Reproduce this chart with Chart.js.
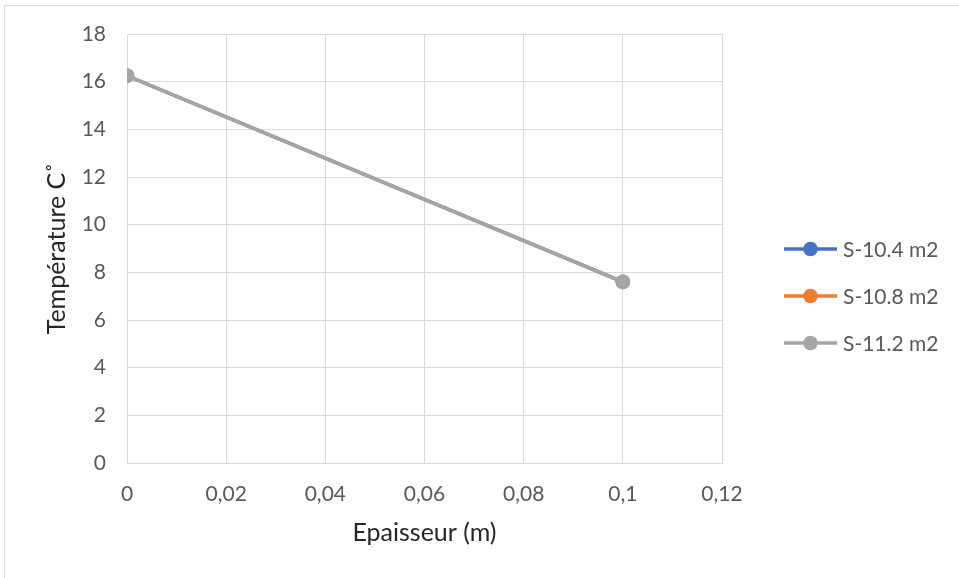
<!DOCTYPE html>
<html>
<head>
<meta charset="utf-8">
<script src="https://cdn.jsdelivr.net/npm/chart.js@4"></script>
<style>
  html, body { margin: 0; padding: 0; background: #fff; overflow: hidden; }
  #wrap { position: relative; width: 959px; height: 578px; }
  #frame { position: absolute; left: 4px; top: 5px; width: 1000px; height: 600px;
           border-top: 1px solid #d9d9d9; border-left: 1px solid #d9d9d9; }
  canvas { position: absolute; left: 0; top: 0; }
</style>
</head>
<body>
<div id="wrap">
  <div id="frame"></div>
  <canvas id="chart" width="959" height="578"></canvas>
</div>
<script>
// epaisseur (m)
const thickness = [0, 0.1];
// temperature per surface
const s104 = [16.25, 7.6];
const s108 = [16.25, 7.6];
const s112 = [16.25, 7.6];
const seriesNames = ['S-10.4 m2', 'S-10.8 m2', 'S-11.2 m2'];
const seriesColors = ['#4472C4', '#ED7D31', '#A5A5A5'];
const xTicksMax = 0.12, xStep = 0.02;
const yTicksMax = 18, yStep = 2;

const FONT = 'Lato, "Liberation Sans", sans-serif';
const toPoints = vals => vals.map((v, i) => ({ x: thickness[i], y: v }));
const allSeries = [s104, s108, s112];

const datasets = allSeries.map((vals, i) => ({
  label: seriesNames[i],
  data: toPoints(vals),
  borderColor: seriesColors[i],
  backgroundColor: seriesColors[i],
  borderWidth: 3.3,
  pointRadius: 7.3,
  pointHoverRadius: 7.3,
  pointBorderWidth: 0,
  order: allSeries.length - i,
  tension: 0
}));

// legend drawn like excel: line with a dot in the middle
const lineLegend = {
  id: 'lineLegend',
  afterDraw(chart) {
    const ctx = chart.ctx;
    ctx.save();
    chart.data.datasets.forEach((ds, i) => {
      const y = 249 + i * 47;
      ctx.strokeStyle = ds.borderColor;
      ctx.lineWidth = 3.3;
      ctx.beginPath();
      ctx.moveTo(784, y);
      ctx.lineTo(837, y);
      ctx.stroke();
      ctx.fillStyle = ds.borderColor;
      ctx.beginPath();
      ctx.arc(810.5, y, 7.3, 0, Math.PI * 2);
      ctx.fill();
      ctx.fillStyle = '#595959';
      ctx.font = '21px ' + FONT;
      ctx.textBaseline = 'middle';
      ctx.fillText(ds.label, 843, y + 1);
    });
    ctx.restore();
  }
};

const fmt = v => Number(v.toFixed(2)).toString().replace('.', ',');

new Chart(document.getElementById('chart'), {
  type: 'line',
  data: { datasets },
  plugins: [lineLegend],
  options: {
    responsive: false,
    animation: false,
    events: [],
    layout: { padding: { left: 0, right: 237, top: 34, bottom: 0 } },
    plugins: { legend: { display: false }, tooltip: { enabled: false } },
    scales: {
      x: {
        type: 'linear',
        min: 0, max: xTicksMax,
        ticks: { stepSize: xStep, callback: fmt, color: '#595959', font: { size: 21, family: FONT }, padding: 19, maxRotation: 0 },
        grid: { color: '#d9d9d9', drawTicks: false },
        border: { color: '#d9d9d9' },
        title: { display: true, text: 'Epaisseur (m)', color: '#262626', font: { size: 25, family: FONT }, padding: { top: 0, bottom: 30 } },
        afterFit(scale) { scale.height = 115; }
      },
      y: {
        min: 0, max: yTicksMax,
        ticks: { stepSize: yStep, color: '#595959', font: { size: 21, family: FONT }, padding: 21 },
        grid: { color: '#d9d9d9', drawTicks: false },
        border: { color: '#d9d9d9' },
        title: { display: true, text: 'Température C˚', color: '#262626', font: { size: 25, family: FONT }, padding: { top: 42, bottom: 0 } },
        afterFit(scale) { scale.width = 127; }
      }
    }
  }
});
</script>
</body>
</html>
